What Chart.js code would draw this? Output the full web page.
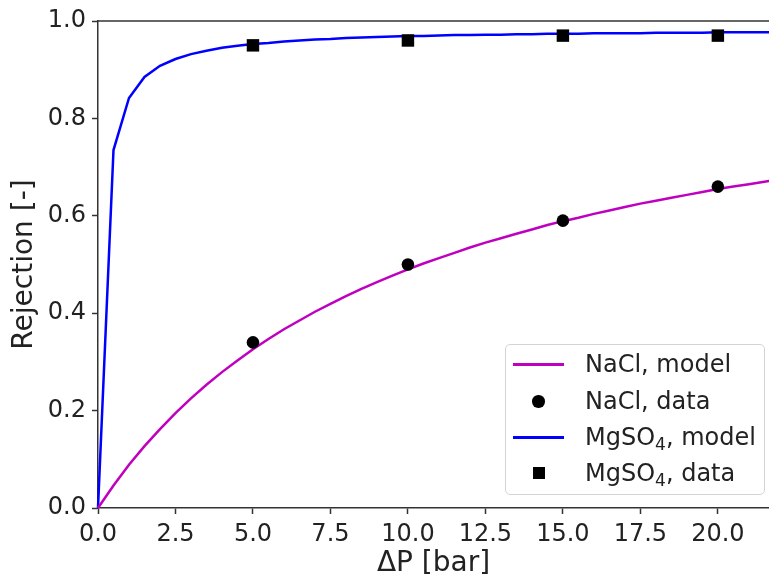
<!DOCTYPE html>
<html>
<head>
<meta charset="utf-8">
<title>Rejection vs pressure</title>
<script src="https://cdn.jsdelivr.net/npm/chart.js@4.4.0/dist/chart.umd.min.js"></script>
<style>
  html, body { margin: 0; padding: 0; background: #fff; }
  #wrap { position: relative; width: 769px; height: 581px; }
  #legend {
    position: absolute; left: 505px; top: 344px; width: 258px; height: 149px;
    border: 1px solid #d4d4d4; border-radius: 5px; background: rgba(255,255,255,0.8);
    font-family: 'DejaVu Sans', sans-serif; font-size: 24px; color: #222;
  }
  .row { position: absolute; left: 0; width: 100%; height: 36px; line-height: 36px; }
  .line { position: absolute; left: 7px; width: 51px; top: 17px; height: 2.5px; }
  .dot { position: absolute; left: 26px; top: 12px; width: 12.5px; height: 12.5px; border-radius: 50%; background: #000; }
  .sq { position: absolute; left: 26.5px; top: 12px; width: 12px; height: 12px; background: #000; }
  .txt { position: absolute; left: 79px; top: 0; white-space: nowrap; }
  sub { font-size: 17px; line-height: 0; vertical-align: -5px; }
</style>
</head>
<body>
<div id="wrap">
  <canvas id="chart" width="769" height="581"></canvas>
  <div id="legend">
    <div class="row" style="top:1px"><div class="line" style="background:#bf00bf"></div><span class="txt">NaCl, model</span></div>
    <div class="row" style="top:38px"><div class="dot"></div><span class="txt">NaCl, data</span></div>
    <div class="row" style="top:74px"><div class="line" style="background:#0000ff"></div><span class="txt">MgSO<sub>4</sub>, model</span></div>
    <div class="row" style="top:110px"><div class="sq"></div><span class="txt">MgSO<sub>4</sub>, data</span></div>
  </div>
</div>
<script>
// pressure grid of the model curves [bar]
const modelP = [0, 0.5, 1, 1.5, 2, 2.5, 3, 3.5, 4, 4.5, 5, 5.5, 6, 6.5, 7, 7.5, 8, 8.5, 9, 9.5,
  10, 10.5, 11, 11.5, 12, 12.5, 13, 13.5, 14, 14.5, 15, 15.5, 16, 16.5, 17, 17.5, 18, 18.5, 19, 19.5,
  20, 20.5, 21, 21.5, 22];
const naclModel = [0, 0.046, 0.089, 0.127, 0.162, 0.195, 0.225, 0.253, 0.279, 0.303,
  0.326, 0.347, 0.367, 0.385, 0.403, 0.419, 0.435, 0.450, 0.464, 0.477,
  0.490, 0.502, 0.513, 0.524, 0.535, 0.545, 0.554, 0.563, 0.572, 0.581,
  0.589, 0.596, 0.604, 0.611, 0.618, 0.625, 0.631, 0.637, 0.643, 0.649,
  0.655, 0.660, 0.665, 0.670, 0.675];
const mgso4Model = [0, 0.735, 0.842, 0.885, 0.908, 0.922, 0.932, 0.939, 0.945, 0.949,
  0.953, 0.955, 0.958, 0.960, 0.962, 0.963, 0.965, 0.966, 0.967, 0.968,
  0.969, 0.969, 0.970, 0.971, 0.971, 0.972, 0.972, 0.973, 0.973, 0.974,
  0.974, 0.974, 0.975, 0.975, 0.975, 0.975, 0.976, 0.976, 0.976, 0.976,
  0.977, 0.977, 0.977, 0.977, 0.977];
// measured points
const dataP = [5, 10, 15, 20];
const naclData = [0.34, 0.50, 0.59, 0.66];
const mgso4Data = [0.95, 0.96, 0.97, 0.97];

const toXY = (xs, ys) => xs.map((x, i) => ({ x: x, y: ys[i] }));

// top spine like a matplotlib box
const topSpine = {
  id: 'topSpine',
  beforeDatasetsDraw(chart) {
    const { ctx, chartArea } = chart;
    ctx.save();
    ctx.strokeStyle = '#333';
    ctx.lineWidth = 1.5;
    ctx.beginPath();
    ctx.moveTo(chartArea.left, chartArea.top);
    ctx.lineTo(chartArea.right, chartArea.top);
    ctx.stroke();
    ctx.restore();
  }
};

const tickFont = { family: 'DejaVu Sans', size: 24 };
const titleFont = { family: 'DejaVu Sans', size: 28 };

new Chart(document.getElementById('chart').getContext('2d'), {
  type: 'scatter',
  data: {
    datasets: [
      {
        label: 'NaCl, data', data: toXY(dataP, naclData),
        pointStyle: 'circle', pointRadius: 6.3, backgroundColor: '#000', borderColor: '#000', borderWidth: 0
      },
      {
        label: 'MgSO4, data', data: toXY(dataP, mgso4Data),
        pointStyle: 'rect', pointRadius: 8.8, backgroundColor: '#000', borderColor: '#000', borderWidth: 0
      },
      {
        label: 'NaCl, model', data: toXY(modelP, naclModel), showLine: true,
        borderColor: '#bf00bf', borderWidth: 2.5, pointRadius: 0, tension: 0, clip: 3
      },
      {
        label: 'MgSO4, model', data: toXY(modelP, mgso4Model), showLine: true,
        borderColor: '#0000ff', borderWidth: 2.5, pointRadius: 0, tension: 0, clip: 3
      }
    ]
  },
  options: {
    responsive: false,
    animation: false,
    layout: { autoPadding: false, padding: { top: 21, right: 0, left: 0, bottom: 0 } },
    plugins: { legend: { display: false }, tooltip: { enabled: false } },
    scales: {
      x: {
        type: 'linear', min: 0, max: 21.65,
        afterFit: s => { s.height = 73; s.paddingLeft = 0; s.paddingRight = 0; },
        border: { color: '#333', width: 1.5 },
        grid: { drawOnChartArea: false, drawTicks: true, tickLength: 6, tickColor: '#333', tickWidth: 1.5 },
        ticks: { stepSize: 2.5, includeBounds: false, padding: 6, color: '#222', font: tickFont,
          maxRotation: 0, autoSkip: false, callback: v => v.toFixed(1) },
        title: { display: true, text: 'ΔP [bar]', color: '#222', font: titleFont, padding: { top: 0, bottom: 0 } }
      },
      y: {
        min: 0, max: 1,
        afterFit: s => { s.width = 98; },
        border: { color: '#333', width: 1.5 },
        grid: { drawOnChartArea: false, drawTicks: true, tickLength: 6, tickColor: '#333', tickWidth: 1.5 },
        ticks: { stepSize: 0.2, padding: 6, color: '#222', font: tickFont, callback: v => v.toFixed(1) },
        title: { display: true, text: 'Rejection [-]', color: '#222', font: titleFont, padding: { top: 8, bottom: 0 } }
      }
    }
  },
  plugins: [topSpine]
});
</script>
</body>
</html>
